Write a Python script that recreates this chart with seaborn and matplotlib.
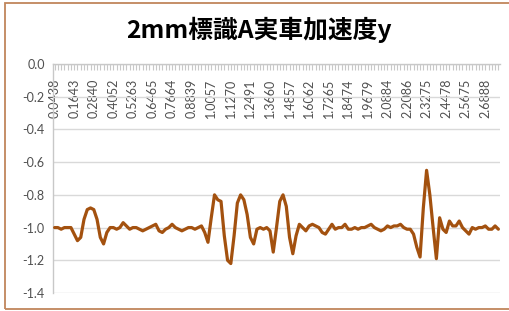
import numpy as np
import pandas as pd
import seaborn as sns
import matplotlib.pyplot as plt
from matplotlib.patches import Rectangle

title = "2mm標識A実車加速度y"

tick_labels = ["0.0438", "0.1643", "0.2840", "0.4052", "0.5263", "0.6465",
               "0.7664", "0.8839", "1.0057", "1.1270", "1.2491", "1.3660",
               "1.4857", "1.6062", "1.7265", "1.8474", "1.9679", "2.0884",
               "2.2086", "2.3275", "2.4478", "2.5675", "2.6888"]

y_ticks = [0.0, -0.2, -0.4, -0.6, -0.8, -1.0, -1.2, -1.4]

accel_y = [
    -1.00, -1.00, -1.01, -1.00, -1.00, -1.00, -1.04, -1.08, -1.06, -0.95,
    -0.89, -0.88, -0.89, -0.95, -1.06, -1.10, -1.03, -1.00, -1.00, -1.01,
    -1.00, -0.97, -0.99, -1.01, -1.00, -1.00, -1.01, -1.02, -1.01, -1.00,
    -0.99, -0.98, -1.02, -1.03, -1.01, -1.00, -0.98, -1.00, -1.01, -1.02,
    -1.01, -1.00, -1.00, -1.01, -1.00, -0.99, -1.03, -1.09, -0.94, -0.80,
    -0.83, -0.84, -1.05, -1.20, -1.22, -1.05, -0.85, -0.80, -0.83, -0.92,
    -1.06, -1.10, -1.01, -1.00, -1.01, -1.00, -1.02, -1.15, -1.00, -0.84,
    -0.80, -0.87, -1.06, -1.16, -1.05, -0.98, -1.00, -1.02, -0.99, -0.98,
    -0.99, -1.00, -1.03, -1.04, -1.01, -0.98, -1.01, -1.00, -1.00, -0.98,
    -1.01, -1.01, -1.00, -1.01, -1.00, -1.00, -0.99, -0.98, -1.00, -1.01,
    -1.02, -1.01, -0.99, -1.00, -0.99, -0.99, -0.98, -1.00, -1.01, -1.01,
    -1.04, -1.12, -1.18, -0.88, -0.65, -0.80, -1.00, -1.19, -0.94, -1.01,
    -1.03, -0.96, -0.99, -0.99, -0.96, -1.00, -1.02, -1.04, -1.00, -1.01,
    -1.00, -1.00, -0.99, -1.01, -1.01, -0.99, -1.01,
]

df = pd.DataFrame({"idx": np.arange(len(accel_y)), "accel": accel_y})

sns.set_style("white")
plt.rcParams["font.family"] = ["Lato", "DejaVu Sans"]

W, H = 509, 311
fig = plt.figure(figsize=(W / 100, H / 100), dpi=100)
ax = fig.add_axes([53 / W, 1 - 293 / H, 447 / W, 229 / H])

sns.lineplot(data=df, x="idx", y="accel", ax=ax, color="#A3510F",
             linewidth=2.3, zorder=3)

ax.set_xlim(-0.5, len(accel_y) - 0.5)
ax.set_ylim(-1.4, 0)
ax.set_xlabel("")
ax.set_ylabel("")

ax.set_yticks(y_ticks)
ax.set_yticklabels([f"{v:.1f}" for v in y_ticks])
ax.yaxis.grid(True, color="#D9D9D9", linewidth=1.0)
ax.xaxis.grid(False)

for s in ["right", "bottom"]:
    ax.spines[s].set_visible(False)
for s in ["left", "top"]:
    ax.spines[s].set_color("#C8C8C8")
    ax.spines[s].set_linewidth(1.0)

ax.tick_params(axis="y", which="major", direction="out", length=4,
               color="#D9D9D9", labelsize=9, labelcolor="#505050", pad=2)

ax.xaxis.set_ticks_position("top")
ax.set_xticks(np.arange(0, len(accel_y), 6)[:len(tick_labels)])
ax.set_xticklabels(tick_labels)
ax.set_xticks(np.arange(len(accel_y)), minor=True)
ax.tick_params(axis="x", which="both", direction="in", length=4,
               color="#C8C8C8", width=0.8, top=True, bottom=False,
               labeltop=True, labelbottom=False)
ax.tick_params(axis="x", which="major", labelsize=9, labelcolor="#505050",
               labelrotation=90, pad=-10.5)
for t in ax.xaxis.get_major_ticks():
    t.label2.set_va("top")
    t.label2.set_ha("center")

fig.text(259 / W, 1 - 30 / H, title, ha="center", va="center",
         fontsize=17.8, fontweight="bold", color="#000000",
         family=["Noto Sans CJK JP", "DejaVu Sans"])

fig.patches.append(Rectangle((5 / W, 2 / H), 1.0, 1 - 5 / H,
                             transform=fig.transFigure, fill=False,
                             edgecolor="#C0865C", linewidth=1.3))

fig.savefig("out.png", dpi=100)
